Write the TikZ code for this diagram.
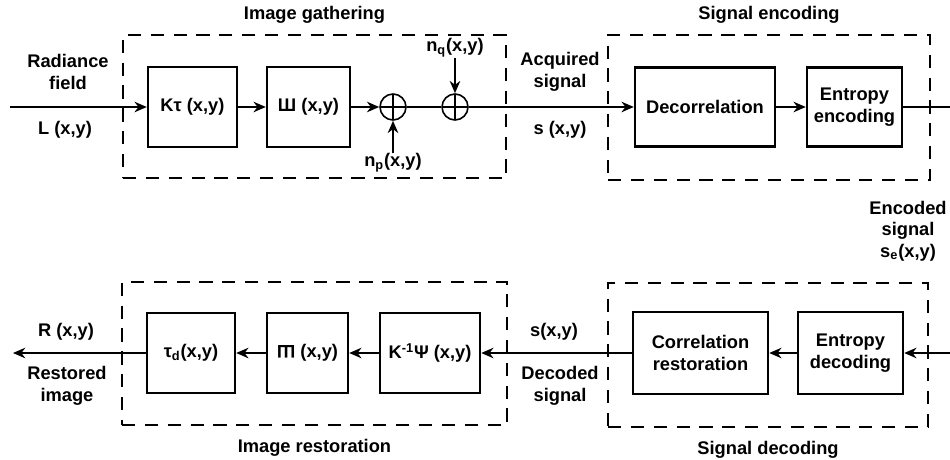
\documentclass[tikz,border=0pt]{standalone}
\usepackage{fontspec}
\setmainfont{Liberation Sans}
\usetikzlibrary{positioning, arrows.meta}

\begin{document}
\begin{tikzpicture}[
    block/.style={rectangle, draw=black, line width=1.4pt, minimum height=1.6cm, align=center, inner sep=2pt},
    group/.style={rectangle, draw=black, line width=1.3pt, dash pattern=on 7.5pt off 5.5pt},
    sum/.style={circle, draw=black, line width=0.9pt, minimum size=0.52cm, inner sep=0pt,
        path picture={\draw[line width=0.9pt] (path picture bounding box.north) -- (path picture bounding box.south)
            (path picture bounding box.west) -- (path picture bounding box.east);}},
    title/.style={inner sep=0pt},
    lbl/.style={align=center, inner sep=0pt},
    edge/.style={line width=0.85pt, black},
    arr/.style={edge, -{Stealth[length=7pt, width=6pt]}},
    font=\fontsize{10.4}{12.2}\selectfont\bfseries
]
    \useasboundingbox (0,0) rectangle (19,-9.18);

    % --- Image gathering (top left)
    \node[group, minimum width=7.66cm, minimum height=2.86cm] (gather) at (6.29,-2.13) {};
    \node[title, above=0.2cm of gather] (gatherTitle) {Image gathering};
    \coordinate (in) at (0.2,-2.14);
    \node[block, minimum width=1.78cm] (Ktau) at (3.85,-2.14) {Kτ (x,y)};
    \node[block, minimum width=1.66cm] (shah) at (6.17,-2.14) {Ш (x,y)};
    \node[sum] (sumP) at (7.86,-2.14) {};
    \node[sum] (sumQ) at (9.1,-2.14) {};
    \node[lbl] (nq) at (9.1,-0.96) {n\textsubscript{q}(x,y)};
    \node[lbl] (np) at (7.86,-3.26) {n\textsubscript{p}(x,y)};
    \node[lbl] (radiance) at (1.36,-1.44) {Radiance\\field};
    \node[lbl] (L) at (1.3,-2.6) {L (x,y)};

    % --- Signal encoding (top right)
    \node[group, minimum width=6.44cm, minimum height=2.9cm] (encode) at (15.38,-2.15) {};
    \node[title, above=0.2cm of encode] (encodeTitle) {Signal encoding};
    \node[block, minimum width=2.8cm, minimum height=1.58cm] (decor) at (14.1,-2.14) {Decorrelation};
    \node[block, minimum width=1.9cm, minimum height=1.58cm] (entEnc) at (17.09,-2.14) {Entropy\\encoding};
    \coordinate (out) at (19,-2.14);
    \node[lbl] (acquired) at (11.2,-1.44) {Acquired\\signal};
    \node[lbl] (sTop) at (11.2,-2.6) {s (x,y)};
    \node[lbl] (encSig) at (18.16,-4.62) {Encoded\\signal\\s\textsubscript{e}(x,y)};

    % --- Signal decoding (bottom right)
    \node[group, minimum width=6.4cm, minimum height=2.88cm] (decode) at (15.36,-7.1) {};
    \node[title, below=0.26cm of decode] (decodeTitle) {Signal decoding};
    \coordinate (inB) at (19,-7.06);
    \node[block, minimum width=2.1cm, minimum height=1.64cm] (entDec) at (17.01,-7.06) {Entropy\\decoding};
    \node[block, minimum width=2.7cm, minimum height=1.64cm] (correl) at (14.01,-7.06) {Correlation\\restoration};
    \node[lbl] (sBot) at (11.08,-6.64) {s(x,y)};
    \node[lbl] (decoded) at (11.2,-7.72) {Decoded\\signal};

    % --- Image restoration (bottom left)
    \node[group, minimum width=7.7cm, minimum height=2.86cm] (restore) at (6.29,-7.07) {};
    \node[title, below=0.26cm of restore] (restoreTitle) {Image restoration};
    \node[block, minimum width=2.0cm] (Kpsi) at (8.6,-7.06) {K\textsuperscript{-1}Ψ (x,y)};
    \node[block, minimum width=1.62cm] (shahInv) at (6.15,-7.06) {\rotatebox[origin=c]{180}{Ш} (x,y)};
    \node[block, minimum width=1.76cm] (taud) at (3.82,-7.06) {τ\textsubscript{d}(x,y)};
    \coordinate (outB) at (0.26,-7.06);
    \node[lbl] (R) at (1.32,-6.64) {R (x,y)};
    \node[lbl] (restored) at (1.34,-7.72) {Restored\\image};

    % --- connectors
    \draw[arr] (in) -- (Ktau);
    \draw[arr] (Ktau) -- (shah);
    \draw[arr] (shah) -- (sumP);
    \draw[arr] (np) -- (sumP);
    \draw[edge] (sumP) -- (sumQ);
    \draw[arr] (nq) -- (sumQ);
    \draw[arr] (sumQ) -- (decor);
    \draw[arr] (decor) -- (entEnc);
    \draw[edge] (entEnc) -- (out);

    \draw[arr] (inB) -- (entDec);
    \draw[arr] (entDec) -- (correl);
    \draw[arr] (correl) -- (Kpsi);
    \draw[arr] (Kpsi) -- (shahInv);
    \draw[arr] (shahInv) -- (taud);
    \draw[arr] (taud) -- (outB);

\end{tikzpicture}
\end{document}
